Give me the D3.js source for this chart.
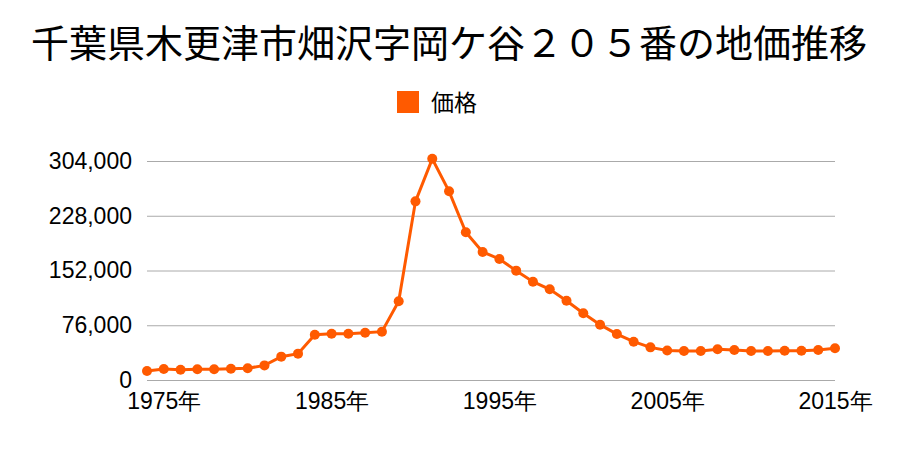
<!DOCTYPE html>
<html><head><meta charset="utf-8">
<script src="https://cdn.jsdelivr.net/npm/d3@7"></script>
<style>body{margin:0;background:#fff;}svg{display:block;font-family:"Noto Sans CJK JP","Noto Sans",sans-serif;}</style>
</head><body>
<svg id="c" width="900" height="450"></svg>
<script>
const title = "千葉県木更津市畑沢字岡ケ谷２０５番の地価推移";
const seriesName = "価格";
const years = d3.range(1974, 2016);
const prices = [12500,15300,14300,14800,14800,15700,16200,20300,32400,36600,
  62900,64300,64300,65700,67100,109200,248000,307000,261900,205000,
  177700,168000,151800,136500,125900,110100,92600,76800,63800,53200,
  45300,40900,40300,40300,42600,41600,40300,40300,40700,40700,41600,44000];
const yTicks = [0,76000,152000,228000,304000];
const xTickYears = [1975,1985,1995,2005,2015];
const color = "#ff5a00";

const svg = d3.select("#c");
const x = d3.scalePoint().domain(years).range([147, 835]);
const y = d3.scaleLinear().domain([0, 304000]).range([380, 161]);

svg.append("text").attr("x", 449).attr("y", 57).attr("text-anchor","middle")
  .attr("font-size", 38).attr("fill","#000").text(title);

svg.append("rect").attr("x",397).attr("y",91).attr("width",22).attr("height",22).attr("fill",color);
svg.append("text").attr("x",431).attr("y",111).attr("font-size",23).attr("fill","#000").text(seriesName);

const yAxis = svg.append("g").attr("transform","translate(147,0)")
  .call(d3.axisLeft(y).tickValues(yTicks).tickSize(-688).tickPadding(15).tickFormat(d3.format(",")));
yAxis.select(".domain").remove();
yAxis.selectAll("line").attr("stroke","#aaa");
yAxis.selectAll("text").attr("font-size",23).attr("fill","#000").attr("font-family","inherit");

const xAxis = svg.append("g").attr("transform","translate(0,380)")
  .call(d3.axisBottom(x).tickValues(xTickYears).tickSize(0).tickPadding(13).tickFormat(d => d + "年"));
xAxis.select(".domain").remove();
xAxis.selectAll("text").attr("font-size",23).attr("fill","#000").attr("font-family","inherit");

const line = d3.line().x((d,i)=>x(years[i])).y(d=>y(d));
svg.append("path").datum(prices).attr("d",line).attr("fill","none")
  .attr("stroke",color).attr("stroke-width",3);
svg.append("g").selectAll("circle").data(prices).join("circle")
  .attr("cx",(d,i)=>x(years[i])).attr("cy",d=>y(d)).attr("r",5).attr("fill",color);
</script>
</body></html>
